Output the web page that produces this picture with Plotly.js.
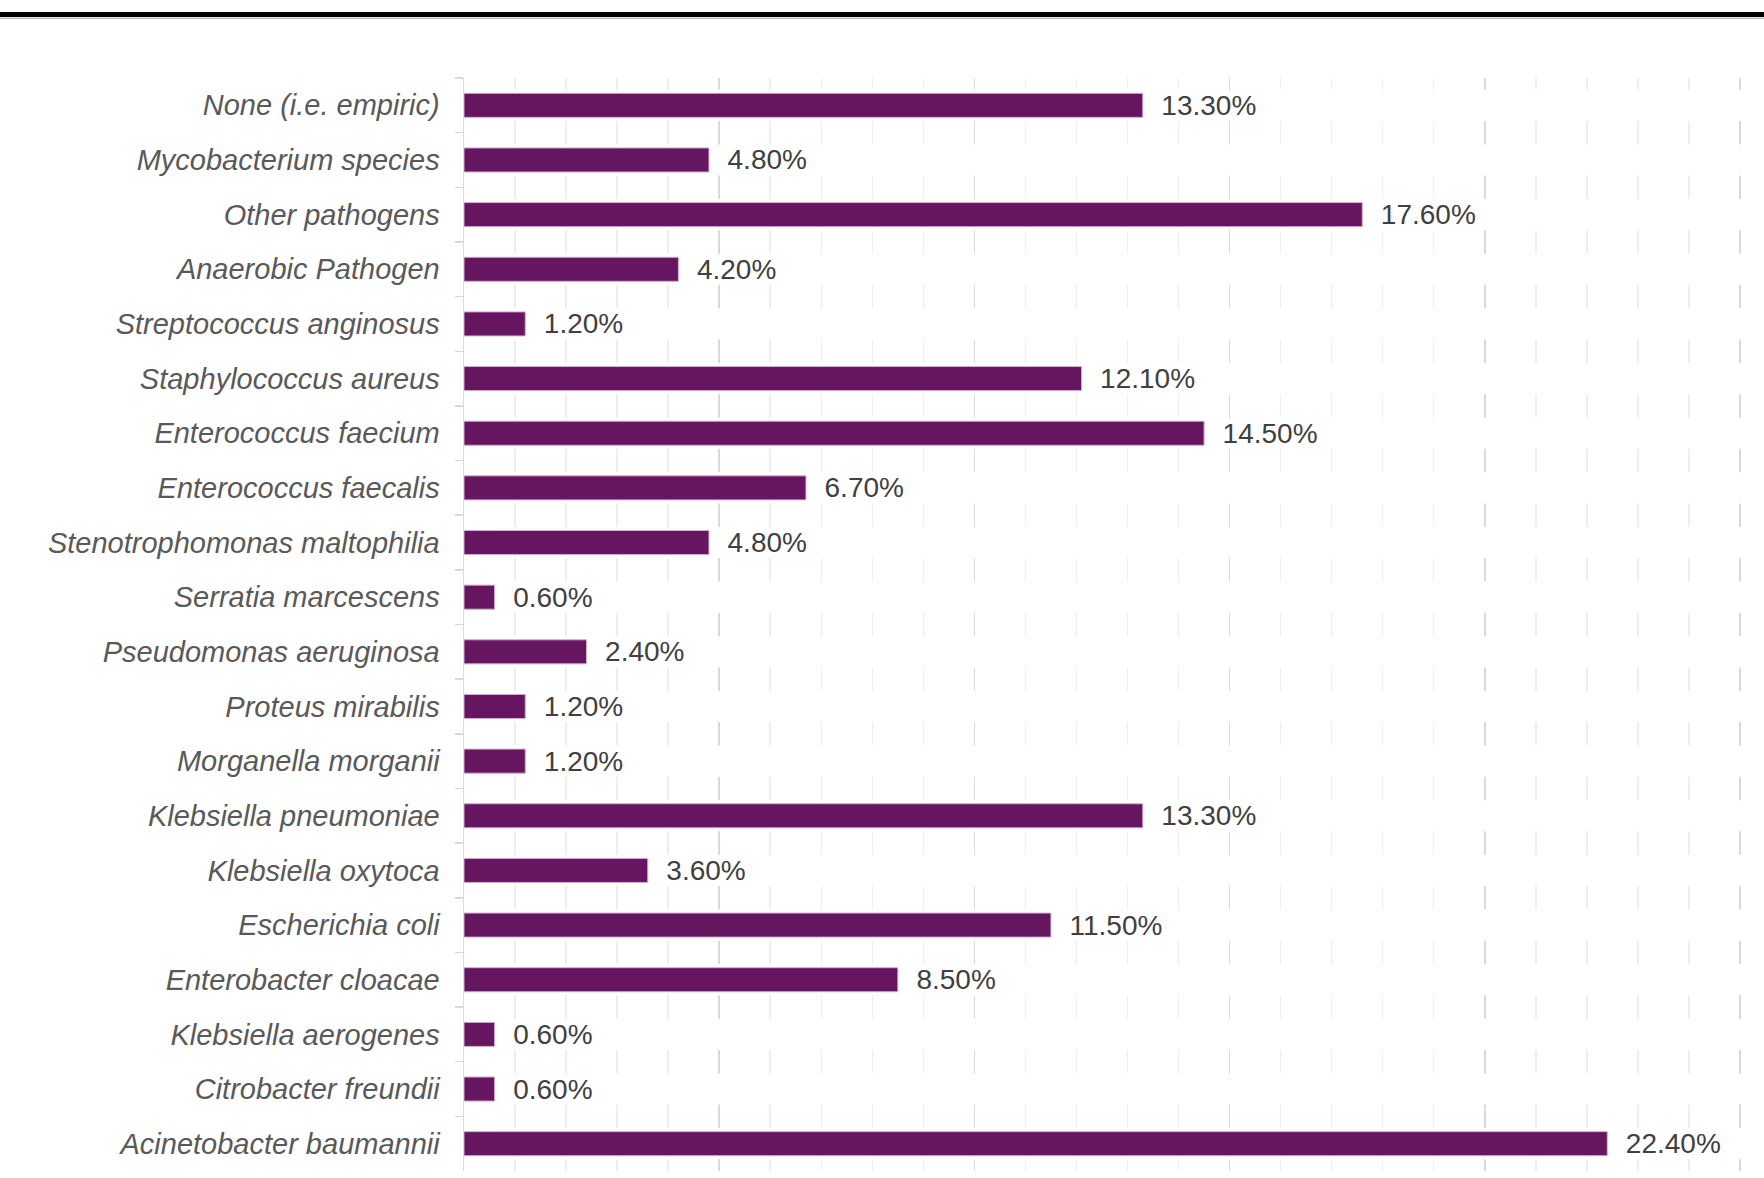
<!DOCTYPE html>
<html>
<head>
<meta charset="utf-8">
<script src="https://cdn.plot.ly/plotly-3.0.1.min.js"></script>
<style>
  html, body { margin: 0; padding: 0; background: #ffffff; }
  #chart { width: 1764px; height: 1178px; }
</style>
</head>
<body>
<div id="chart"></div>
<script>
// Categories, listed top to bottom as in the reference
const categories = [
  "None (i.e. empiric)",
  "Mycobacterium species",
  "Other pathogens",
  "Anaerobic Pathogen",
  "Streptococcus anginosus",
  "Staphylococcus aureus",
  "Enterococcus faecium",
  "Enterococcus faecalis",
  "Stenotrophomonas maltophilia",
  "Serratia marcescens",
  "Pseudomonas aeruginosa",
  "Proteus mirabilis",
  "Morganella morganii",
  "Klebsiella pneumoniae",
  "Klebsiella oxytoca",
  "Escherichia coli",
  "Enterobacter cloacae",
  "Klebsiella aerogenes",
  "Citrobacter freundii",
  "Acinetobacter baumannii"
];

// Percentages (%)
const percentages = [
  13.3, 4.8, 17.6, 4.2, 1.2, 12.1, 14.5, 6.7, 4.8, 0.6,
  2.4, 1.2, 1.2, 13.3, 3.6, 11.5, 8.5, 0.6, 0.6, 22.4
];

// Axis extent (%)
const xMax = 25;

// White row bands that interrupt the gridlines behind each bar row (style only)
const rowBand = categories.map(() => xMax + 0.1);

const bandTrace = {
  type: 'bar',
  orientation: 'h',
  y: categories,
  x: rowBand,
  width: 0.57,
  marker: { color: '#ffffff', line: { width: 0 } },
  hoverinfo: 'skip',
  showlegend: false
};

const barTrace = {
  type: 'bar',
  orientation: 'h',
  y: categories,
  x: percentages,
  width: 0.44,
  marker: { color: '#661561', line: { color: '#cfb0cd', width: 1 } },
  texttemplate: '\u00a0\u00a0%{x:.2f}%',
  textposition: 'outside',
  constraintext: 'none',
  cliponaxis: false,
  textfont: { family: 'Liberation Sans, Arial, sans-serif', size: 28, color: '#404040' },
  outsidetextfont: { family: 'Liberation Sans, Arial, sans-serif', size: 28, color: '#404040' },
  hoverinfo: 'skip',
  showlegend: false
};

const layout = {
  width: 1764,
  height: 1178,
  margin: { l: 464, r: 22, t: 78, b: 7, pad: 0 },
  paper_bgcolor: '#ffffff',
  plot_bgcolor: '#ffffff',
  barmode: 'overlay',
  showlegend: false,
  font: { family: 'Liberation Sans, Arial, sans-serif', size: 28, color: '#595959' },
  xaxis: {
    range: [0, xMax + 0.04],
    tick0: 0,
    dtick: 5,
    showgrid: true,
    gridcolor: '#d9d9d9',
    gridwidth: 1.5,
    minor: { tick0: 0, dtick: 1, showgrid: true, gridcolor: '#eeeeee', gridwidth: 1.5 },
    showticklabels: false,
    zeroline: false,
    showline: false,
    ticks: ''
  },
  yaxis: {
    type: 'category',
    autorange: 'reversed',
    showline: true,
    linecolor: '#d9d9d9',
    linewidth: 1.5,
    ticks: 'outside',
    tickson: 'boundaries',
    ticklen: 8,
    tickwidth: 1.5,
    tickcolor: '#d9d9d9',
    showgrid: false,
    zeroline: false,
    ticklabelstandoff: 17,
    tickfont: { family: 'Liberation Sans, Arial, sans-serif', size: 29, color: '#595959', style: 'italic' }
  },
  shapes: [
    { type: 'line', xref: 'paper', yref: 'paper', x0: -1, x1: 1.1, y0: 1.0581, y1: 1.0581,
      line: { color: '#000000', width: 5 } },
    { type: 'line', xref: 'paper', yref: 'paper', x0: -1, x1: 1.1, y0: 1.0547, y1: 1.0547,
      line: { color: '#9a9a9a', width: 1 } }
  ]
};

Plotly.newPlot('chart', [bandTrace, barTrace], layout, { staticPlot: true, displayModeBar: false });
</script>
</body>
</html>
